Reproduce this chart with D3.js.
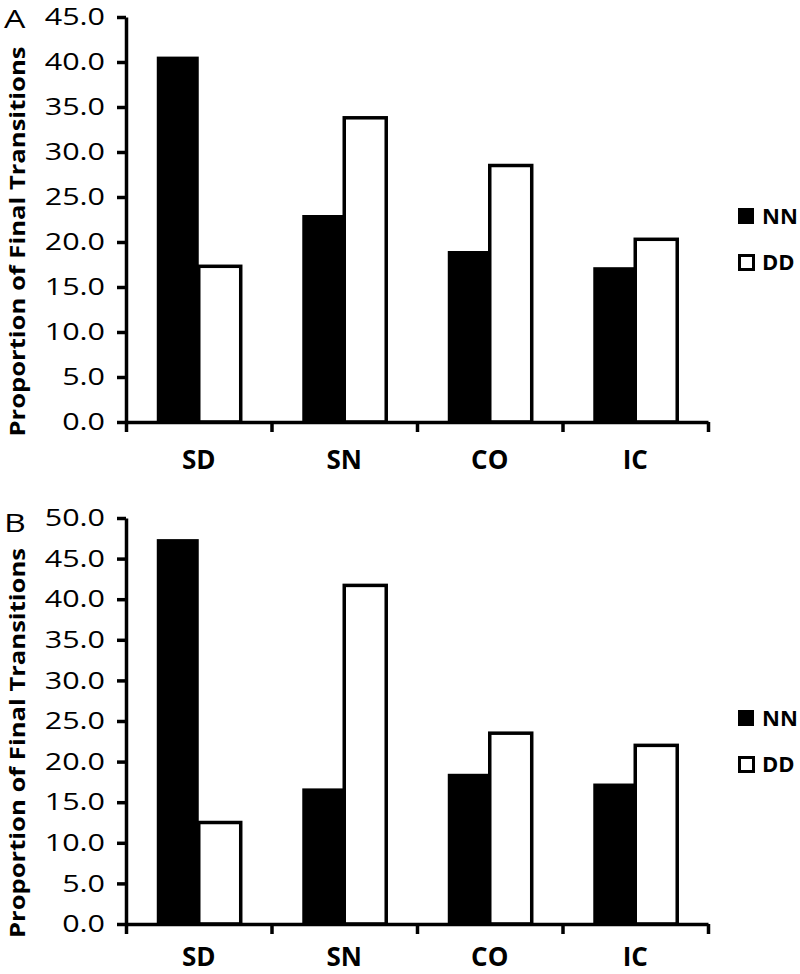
<!DOCTYPE html>
<html>
<head>
<meta charset="utf-8">
<script src="https://cdn.jsdelivr.net/npm/d3@7"></script>
<style>
  html, body { margin: 0; padding: 0; background: #fff; }
  svg { display: block; }
  text { font-family: "Open Sans", sans-serif; fill: #000; }
</style>
</head>
<body>
<svg id="chart" width="800" height="974"></svg>
<script>
// ---- Data ----
const categories = ["SD", "SN", "CO", "IC"];
const seriesNames = ["NN", "DD"];
const panelA_NN = [40.6, 23.0, 19.0, 17.2];
const panelA_DD = [17.3, 33.8, 28.5, 20.3];
const panelB_NN = [47.4, 16.7, 18.5, 17.3];
const panelB_DD = [12.5, 41.7, 23.5, 22.0];
const panelA_ticks = [0, 5, 10, 15, 20, 25, 30, 35, 40, 45];
const panelB_ticks = [0, 5, 10, 15, 20, 25, 30, 35, 40, 45, 50];
const yTitle = "Proportion of Final Transitions";

const svg = d3.select("#chart");
svg.append("rect").attr("width", 800).attr("height", 974).attr("fill", "#fff");

function widen(sel, factor) {
  sel.each(function () {
    const len = this.getComputedTextLength();
    d3.select(this).attr("textLength", len * factor).attr("lengthAdjust", "spacingAndGlyphs");
  });
}

function drawPanel(cfg) {
  const g = svg.append("g");
  const x0 = d3.scaleBand().domain(categories).range([126, 708])
    .paddingInner(0.423).paddingOuter(0.2115);
  const x1 = d3.scaleBand().domain(seriesNames).range([0, x0.bandwidth()]);
  const y = d3.scaleLinear().domain([0, cfg.max]).range([cfg.bottom, cfg.top]);

  const rows = categories.map((c, i) => ({ cat: c, NN: cfg.nn[i], DD: cfg.dd[i] }));

  // bars
  const grp = g.selectAll("g.cat").data(rows).join("g")
    .attr("transform", d => `translate(${x0(d.cat)},0)`);
  grp.selectAll("rect").data(d => seriesNames.map(s => ({ s, v: d[s] }))).join("rect")
    .attr("x", d => x1(d.s))
    .attr("width", x1.bandwidth())
    .attr("y", d => y(d.v))
    .attr("height", d => y(0) - y(d.v))
    .attr("fill", d => d.s === "NN" ? "#000" : "#fff")
    .attr("stroke", d => d.s === "NN" ? "none" : "#000")
    .attr("stroke-width", 3.5);

  // y axis
  const yAxis = g.append("g").attr("transform", "translate(126,0)")
    .call(d3.axisLeft(y).tickValues(cfg.ticks).tickFormat(d3.format(".1f"))
      .tickSize(9).tickSizeOuter(0).tickPadding(12));
  yAxis.select(".domain").attr("stroke-width", 3.5);
  yAxis.selectAll(".tick line").attr("stroke-width", 3.5);
  const tickTexts = yAxis.selectAll(".tick text")
    .attr("font-family", "'Open Sans', sans-serif")
    .attr("font-size", 24);
  widen(tickTexts, 1.27);

  // x axis (boundary ticks)
  const xb = d3.scaleLinear().domain([0, categories.length]).range([126, 708]);
  const xAxis = g.append("g").attr("transform", `translate(0,${cfg.bottom})`)
    .call(d3.axisBottom(xb).tickValues(d3.range(categories.length + 1))
      .tickFormat("").tickSize(10).tickSizeOuter(0));
  xAxis.select(".domain").attr("stroke-width", 3.5);
  xAxis.selectAll(".tick line").attr("stroke-width", 3.5);

  // category labels
  g.selectAll("text.cat").data(categories).join("text")
    .attr("class", "cat")
    .attr("x", d => x0(d) + x0.bandwidth() / 2)
    .attr("y", cfg.bottom + cfg.labelOffset)
    .attr("text-anchor", "middle")
    .attr("font-size", 26)
    .attr("font-weight", "bold")
    .text(d => d);

  // y title
  g.append("text")
    .attr("transform", `translate(25,${(cfg.top + cfg.bottom) / 2 + 22}) rotate(-90)`)
    .attr("text-anchor", "middle")
    .attr("font-size", 22)
    .attr("font-weight", "bold")
    .attr("textLength", 390)
    .attr("lengthAdjust", "spacingAndGlyphs")
    .text(yTitle);

  // panel letter
  const letter = g.append("text")
    .attr("x", 4).attr("y", cfg.letterY)
    .attr("font-size", 26)
    .text(cfg.letter);
  widen(letter, 1.3);

  // legend
  const leg = g.selectAll("g.leg").data(seriesNames).join("g")
    .attr("transform", (d, i) => `translate(738,${cfg.legendTop + i * 46})`);
  leg.append("rect")
    .attr("x", d => d === "NN" ? 0 : 1.5)
    .attr("y", d => d === "NN" ? 0 : 1.5)
    .attr("width", d => d === "NN" ? 16 : 14)
    .attr("height", d => d === "NN" ? 16 : 14)
    .attr("fill", d => d === "NN" ? "#000" : "#fff")
    .attr("stroke", d => d === "NN" ? "none" : "#000")
    .attr("stroke-width", 3);
  leg.append("text")
    .attr("x", 24).attr("y", 16)
    .attr("font-size", 22)
    .attr("font-weight", "bold")
    .text(d => d);
}

drawPanel({ nn: panelA_NN, dd: panelA_DD, max: 45, ticks: panelA_ticks,
  top: 17, bottom: 422, letter: "A", letterY: 28, legendTop: 208, labelOffset: 47 });
drawPanel({ nn: panelB_NN, dd: panelB_DD, max: 50, ticks: panelB_ticks,
  top: 518, bottom: 924, letter: "B", letterY: 532, legendTop: 710, labelOffset: 42 });
</script>
</body>
</html>
